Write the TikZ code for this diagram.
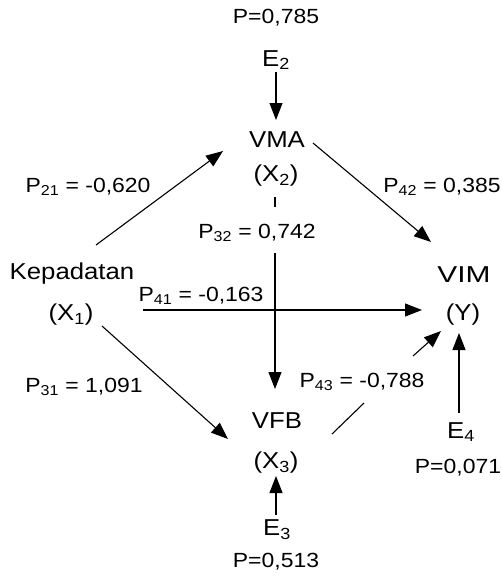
\documentclass[tikz,border=0pt]{standalone}
\usepackage{fontspec}
\setmainfont[FakeStretch=1.12]{Liberation Sans}
\usetikzlibrary{arrows.meta}
\begin{document}
\begin{tikzpicture}[x=1pt,y=-1pt,
  every node/.style={inner sep=1pt},
  var/.style={font=\fontsize{23}{26}\selectfont},
  coef/.style={font=\fontsize{20.5}{23}\selectfont},
  path/.style={line width=1.1pt, -{Triangle[length=17pt,width=13pt]}},
  plain/.style={line width=1.1pt}]
\useasboundingbox (0,0) rectangle (502,576);
% variables
\node[coef] (e2p) at (276,18) {P=0,785};
\node[var] (e2) at (276,60) {E\textsubscript{2}};
\node[var] (vma) at (277,140) {VMA};
\node[var] (x2) at (276,176) {(X\textsubscript{2})};
\node[var] (kep) at (72,274) {Kepadatan};
\node[var] (x1) at (71,315) {(X\textsubscript{1})};
\node[var] (vim) at (464,275) {\addfontfeature{FakeStretch=1.3}VIM};
\node[var] (y) at (463,315) {(Y)};
\node[var] (vfb) at (277,421) {VFB};
\node[var] (x3) at (276,463) {(X\textsubscript{3})};
\node[var] (e4) at (461,432) {E\textsubscript{4}};
\node[coef] (e4p) at (458,468) {P=0,071};
\node[var] (e3) at (277,530) {E\textsubscript{3}};
\node[coef] (e3p) at (276,562) {P=0,513};
% coefficients
\node[coef] (p21) at (88,187) {P\textsubscript{21} = -0,620};
\node[coef] (p42) at (442,187) {P\textsubscript{42} = 0,385};
\node[coef] (p32) at (257,233) {P\textsubscript{32} = 0,742};
\node[coef] (p41) at (201,296) {P\textsubscript{41} = -0,163};
\node[coef] (p31) at (84,387) {P\textsubscript{31} = 1,091};
\node[coef] (p43) at (362,382) {P\textsubscript{43} = -0,788};
% end points of the connectors
\coordinate (a21s) at (96,245);   \coordinate (a21e) at (223,151);
\coordinate (a42s) at (313,143);  \coordinate (a42e) at (431,242);
\coordinate (a41s) at (143,310);  \coordinate (a41e) at (422,310);
\coordinate (a31s) at (102,326);  \coordinate (a31e) at (228,439);
\coordinate (a32s) at (275,197);  \coordinate (a32m) at (275,207);
\coordinate (a32n) at (275,253);  \coordinate (a32e) at (275,389);
\coordinate (a43s) at (332,434);  \coordinate (a43m) at (364,403);
\coordinate (a43n) at (413,356);  \coordinate (a43e) at (441,331);
\coordinate (e2s) at (276,72);    \coordinate (e2e) at (276,120);
\coordinate (e3s) at (276,515);   \coordinate (e3e) at (276,476);
\coordinate (e4s) at (459,413);   \coordinate (e4e) at (459,333);
% paths
\draw[path] (a21s) -- (a21e);
\draw[path] (a42s) -- (a42e);
\draw[path] (a41s) -- (a41e);
\draw[path] (a31s) -- (a31e);
\draw[plain] (a32s) -- (a32m);
\draw[path] (a32n) -- (a32e);
\draw[plain] (a43s) -- (a43m);
\draw[path] (a43n) -- (a43e);
\draw[path] (e2s) -- (e2e);
\draw[path] (e3s) -- (e3e);
\draw[path] (e4s) -- (e4e);
\end{tikzpicture}
\end{document}
